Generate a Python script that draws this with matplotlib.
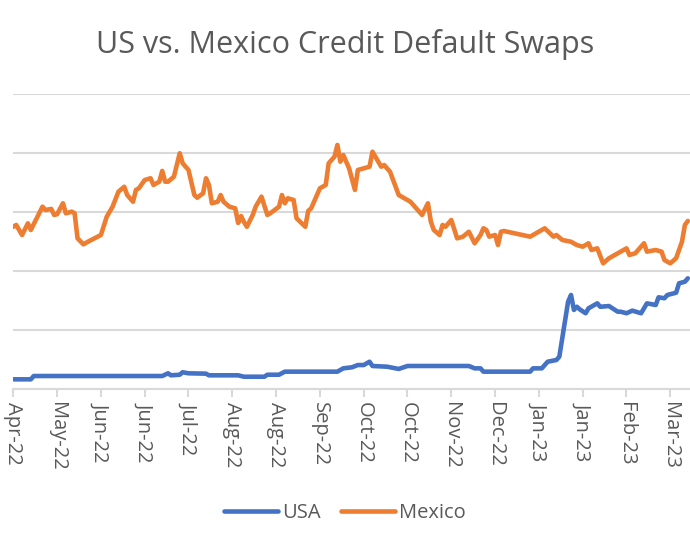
import numpy as np
import pandas as pd
import matplotlib
matplotlib.use('Agg')
import matplotlib.pyplot as plt
from matplotlib.lines import Line2D

plt.rcParams['font.family'] = ['Open Sans', 'DejaVu Sans']

# trading-day calendar (business days) used for the category axis
dates = pd.bdate_range('2022-04-25', periods=232)
tick_step = 15

# Mexico CDS (bps) at trading-day index
mex_idx = [0, 1, 3, 5, 6, 10, 11, 13, 14, 15, 17, 18, 20, 21, 22, 24, 26, 30, 32, 34,
           36, 38, 39, 41, 42, 43, 45, 47, 48, 50, 51, 52, 53, 55, 57, 58, 60, 62, 63, 65,
           66, 67, 68, 70, 71, 72, 74, 76, 77, 78, 79, 80, 82, 83, 85, 87, 88, 91, 92, 93,
           94, 96, 97, 100, 101, 102, 105, 107, 108, 110, 111, 112, 113, 115, 117, 118, 120, 122, 123, 124,
           126, 127, 129, 132, 136, 140, 142, 143, 144, 146, 147, 148, 150, 152, 154, 156, 158, 160, 161, 162,
           163, 165, 166, 167, 168, 177, 182, 185, 186, 188, 191, 193, 195, 197, 198, 200, 202, 204, 206, 208,
           210, 211, 213, 216, 217, 220, 222, 223, 225, 227, 229, 230, 231]
mex_val = [137.5, 139.0, 130.5, 140.4, 134.8, 154.5, 151.7, 152.6, 147.5, 148.1, 157.4, 148.9, 150.3, 148.9, 127.7, 122.6, 125.4, 130.5, 146.0, 154.5,
           167.2, 171.4, 164.4, 158.7, 168.7, 170.1, 177.1, 178.6, 172.9, 175.7, 184.8, 175.7, 175.7, 179.9, 199.8, 191.3, 185.6, 164.4, 162.1, 165.9,
           178.6, 172.9, 157.4, 158.7, 164.4, 158.7, 154.5, 153.1, 140.7, 146.6, 141.5, 137.5, 147.5, 154.5, 163.0, 147.5, 148.9, 154.5, 164.4, 157.4,
           161.6, 160.2, 144.7, 137.5, 150.9, 153.1, 170.1, 172.9, 191.3, 196.9, 206.8, 192.6, 198.3, 187.0, 168.7, 185.6, 187.0, 188.4, 201.1, 196.9,
           188.4, 189.8, 184.2, 164.4, 158.7, 147.5, 157.4, 141.8, 134.8, 130.5, 139.0, 137.5, 143.2, 127.7, 129.1, 133.3, 123.5, 130.5, 136.2, 134.8,
           129.1, 130.5, 122.0, 133.3, 133.9, 129.1, 136.2, 129.1, 130.5, 126.3, 124.8, 122.0, 120.6, 123.5, 117.8, 119.2, 106.5, 110.8, 113.6, 116.4,
           119.2, 113.6, 115.0, 123.5, 116.4, 117.8, 116.4, 109.3, 106.5, 110.8, 124.8, 139.0, 142.4]

# USA CDS (bps) at trading-day index
usa_idx = [0, 6, 7, 51, 53, 54, 57, 58, 60, 66, 67, 77, 79, 86, 87, 91, 93, 111, 113, 116,
           118, 120, 122, 123, 128, 132, 135, 156, 158, 160, 161, 177, 178, 181, 183, 186, 187, 189, 190, 191,
           192, 193, 194, 196, 197, 199, 200, 201, 204, 207, 208, 210, 212, 215, 217, 220, 221, 223, 224, 227,
           228, 230, 231]
usa_val = [8.2, 8.2, 11.0, 11.0, 13.3, 11.6, 12.1, 14.2, 13.3, 13.0, 11.6, 11.6, 10.4, 10.4, 12.1, 12.1, 14.7, 14.7, 17.5, 18.4,
           20.3, 20.3, 23.1, 19.5, 18.9, 17.0, 19.5, 19.5, 17.5, 17.5, 14.7, 14.7, 17.5, 17.5, 23.1, 24.6, 27.4, 58.5, 74.0, 79.7,
           67.0, 69.7, 67.5, 64.2, 68.4, 71.2, 72.6, 69.7, 70.3, 65.5, 65.5, 64.2, 66.4, 64.2, 72.6, 71.2, 77.7, 76.9, 79.7, 81.6,
           89.6, 90.9, 93.8]

series_names = ['USA', 'Mexico']
colors = ['#4472C4', '#ED7D31']
grid_c = '#D9D9D9'
text_c = '#595959'

fig = plt.figure(figsize=(6.9, 5.5), dpi=100)
ax = fig.add_axes([13.3 / 690, 161 / 550, 1 - 13.3 / 690, 295 / 550])

ax.plot(usa_idx, usa_val, color=colors[0], lw=3.3, solid_capstyle='round', solid_joinstyle='round', zorder=3)
ax.plot(mex_idx, mex_val, color=colors[1], lw=3.3, solid_capstyle='round', solid_joinstyle='round', zorder=3)

ax.set_xlim(0, 231.75)
ax.set_ylim(0, 250)
ax.set_yticks(np.arange(0, 251, 50))
ax.yaxis.grid(True, color=grid_c, lw=1.5)
ax.tick_params(axis='y', left=False, labelleft=False)
for s in ['top', 'right', 'left']:
    ax.spines[s].set_visible(False)
ax.spines['bottom'].set_color(grid_c)
ax.spines['bottom'].set_linewidth(1.5)

ticks = list(range(0, len(dates), tick_step))
ax.set_xticks(ticks)
ax.set_xticklabels([dates[i].strftime('%b-%y') for i in ticks], rotation=-90,
                   fontsize=14.5, color=text_c, va='top', ha='center')
ax.tick_params(axis='x', length=6, width=1.5, color=grid_c, pad=3)

fig.text(0.5, 1 - 45 / 550, 'US vs. Mexico Credit Default Swaps', ha='center', va='center',
         fontsize=22, color=text_c)

handles = [Line2D([], [], color=c, lw=3.3, solid_capstyle='round') for c in colors]
fig.legend(handles, series_names, loc='center', bbox_to_anchor=(0.5, 1 - 513 / 550), ncol=2,
           frameon=False, fontsize=14.5, handlelength=2.7, handletextpad=0.2, columnspacing=1.0,
           labelcolor=text_c)

fig.savefig('out.png', dpi=100)
